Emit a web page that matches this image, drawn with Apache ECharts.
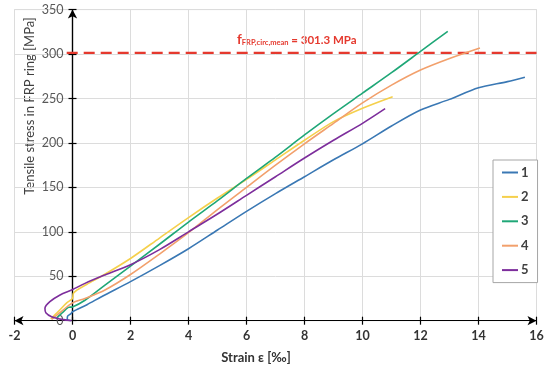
<!DOCTYPE html>
<html><head><meta charset="utf-8">
<script src="https://cdn.jsdelivr.net/npm/echarts@6/dist/echarts.min.js"></script>
<style>html,body{margin:0;padding:0;background:#fff}#c{width:550px;height:374px}</style>
</head><body><div id="c"></div>
<script>
const seriesNames = ['1','2','3','4','5'];
const colors = ['#3a78b4','#f5d04c','#1fa777','#f2a06c','#7d2e9c'];
const strain1 = [-0.05,-0.18,-0.17,-0.05,0,0.5,1,2,3,4,5,6,7,8,9,10,11,12,13,14,15,15.6];
const stress1 = [0,1.5,5,8,10,18,27,44,62,81,102,123,143,162,181,199,219,237,249,262,269,274];
const strain2 = [-0.75,-0.5,-0.2,0,0.03,0.5,1,2,3,4,5,6,7,8,9,10,11.04];
const stress2 = [2,10,20,25,31,41,50,70,93,116,138,159,181,203,224,239,252];
const strain3 = [-0.55,-0.35,-0.14,0,0.43,1.12,2,3,4,5,6,7,8,9,10,11,12,12.94];
const stress3 = [2.7,9,15,15.5,23,40,61.5,86,111,135,160,184,209,233,256,279,303,325.6];
const strain4 = [-0.72,-0.4,0,0.43,1.12,2,3,4,5,6,7,8,9,10,11,12,13,14.05];
const stress4 = [1.5,10,20,25,34.6,52,75,99,125,150,175,199,222,245,265,282,295,306.8];
const strain5 = [-0.03,-0.37,-0.72,-0.92,-0.95,-0.78,-0.43,0,0.43,1.12,2,3,4,5,6,7,8,9,10,10.78];
const stress5 = [0,1.5,4.5,9,14,21.4,29,35,42,51.5,63,80,100,120,141,162,183,203,222,238.5];
const meanStrength = 301.3;
const meanLineStrain = [-0.2, 16];
const xTicks = {min:-2, max:16, interval:2};
const yTicks = {min:0, max:350, interval:50};

const strains = [strain1,strain2,strain3,strain4,strain5];
const stresses = [stress1,stress2,stress3,stress4,stress5];
const font = 'Lato, "Noto Sans", sans-serif';

const gridLeft = 14.5, gridRight = 13.5;
const plotW = 550 - gridLeft - gridRight;
// shift the y axis to sit on strain = 0
const yAxisShift = -plotW * (0 - xTicks.min) / (xTicks.max - xTicks.min);

const series = seriesNames.map((n,i)=>({
  name:n, type:'line', xAxisIndex:0, yAxisIndex:0,
  data: strains[i].map((x,j)=>[x,stresses[i][j]]),
  showSymbol:false, symbol:'none', smooth:0.3,
  lineStyle:{color:colors[i], width:1.6}, itemStyle:{color:colors[i]}, z:3
}));
series.push({
  name:'mean', type:'line', xAxisIndex:0, yAxisIndex:0,
  data:meanLineStrain.map(x=>[x,meanStrength]),
  showSymbol:false, symbol:'none',
  lineStyle:{color:'#e5392e', width:2.2, type:[11,6]}, z:2
});

const chart = echarts.init(document.getElementById('c'));
chart.setOption({
  animation:false,
  backgroundColor:'#fff',
  grid:{left:gridLeft, right:gridRight, top:9.6, bottom:53.3, containLabel:false, outerBoundsMode:'none',
        show:true, borderColor:'#d9d9d9', borderWidth:1},
  xAxis:[{
    type:'value', min:xTicks.min, max:xTicks.max, interval:xTicks.interval, position:'bottom',
    axisLine:{onZero:false, symbol:['arrow','arrow'], symbolSize:[7,9], lineStyle:{color:'#000', width:1.2}},
    axisTick:{show:true, length:4, lineStyle:{color:'#000', width:1.2}},
    axisLabel:{color:'#333', fontWeight:'bold', fontSize:12.5, fontFamily:font, margin:9},
    splitLine:{show:true, lineStyle:{color:'#dcdcdc', width:1}}
  },{
    type:'value', min:xTicks.min, max:xTicks.max, interval:xTicks.interval, position:'bottom',
    axisLine:{onZero:false, lineStyle:{color:'#000', width:1.2}},
    axisTick:{show:true, inside:true, length:4, lineStyle:{color:'#000', width:1.2}},
    axisLabel:{show:false}, splitLine:{show:false}
  }],
  yAxis:[{
    type:'value', min:yTicks.min, max:yTicks.max, interval:yTicks.interval, position:'left', offset:yAxisShift,
    axisLine:{onZero:false, symbol:['none','arrow'], symbolSize:[7,9], lineStyle:{color:'#000', width:1.2}},
    axisTick:{show:true, length:4, lineStyle:{color:'#000', width:1.2}},
    axisLabel:{color:'#595959', fontSize:12.5, fontFamily:font, margin:9},
    splitLine:{show:true, lineStyle:{color:'#dcdcdc', width:1}}
  },{
    type:'value', min:yTicks.min, max:yTicks.max, interval:yTicks.interval, position:'left', offset:yAxisShift,
    axisLine:{onZero:false, lineStyle:{color:'#000', width:1.2}},
    axisTick:{show:true, inside:true, length:4, lineStyle:{color:'#000', width:1.2}},
    axisLabel:{show:false}, splitLine:{show:false}
  }],
  legend:{
    data:seriesNames, orient:'vertical', left:493, top:160,
    padding:[6,9,6,9], itemGap:11.4, itemWidth:16, itemHeight:2, icon:'rect',
    backgroundColor:'#fff', borderColor:'#a6a6a6', borderWidth:1, borderRadius:0,
    textStyle:{color:'#404040', fontSize:13, fontWeight:'bold', fontFamily:font, padding:[0,0,0,-2]}
  },
  graphic:[
    {type:'text', x:30, y:106, rotation:Math.PI/2,
      style:{text:'Tensile stress in FRP ring [MPa]', fill:'#404040', font:'13px '+font, textAlign:'center', textVerticalAlign:'middle'}},
    {type:'text', x:256, y:358,
      style:{text:'Strain ε [‰]', fill:'#333', font:'bold 13px '+font, textAlign:'center', textVerticalAlign:'middle'}},
    {type:'text', x:237, y:39, style:{
      text:'{f|f}{s|FRP,circ,mean}{n| = 301.3 MPa}', textVerticalAlign:'middle',
      rich:{
        f:{fill:'#e5392e', fontSize:13.5, fontWeight:'bold', fontFamily:font, verticalAlign:'bottom', lineHeight:15},
        s:{fill:'#e5392e', fontSize:7.5, fontWeight:'bold', fontFamily:font, verticalAlign:'bottom', lineHeight:9, padding:[5,0,0,0]},
        n:{fill:'#e5392e', fontSize:11.5, fontWeight:'bold', fontFamily:font, verticalAlign:'bottom', lineHeight:15}
      }}}
  ],
  series:series
});
</script></body></html>
